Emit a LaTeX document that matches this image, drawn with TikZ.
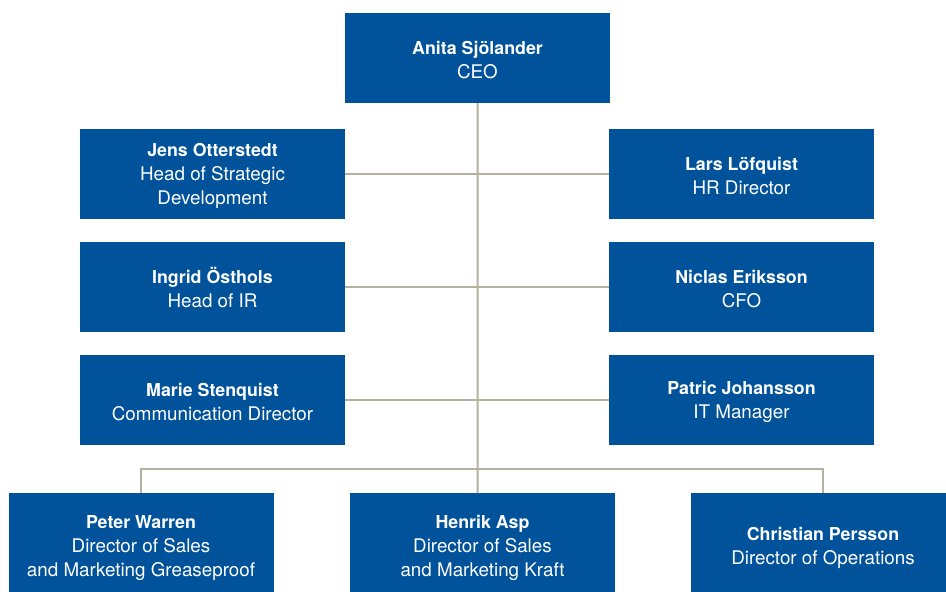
\documentclass[tikz,border=0pt]{standalone}
\usepackage{fontspec}
\setmainfont{TeX Gyre Heros}
\usepackage{tikz}
\definecolor{orgblue}{RGB}{0,82,155}
\definecolor{orgline}{RGB}{180,176,155}
\newcommand{\person}[2]{{\fontsize{17.8}{24}\selectfont\bfseries #1}\rule{0pt}{18pt}\\#2}

\begin{document}
\begin{tikzpicture}[x=1pt,y=-1pt,
    box/.style={fill=orgblue,text=white,minimum width=265pt,minimum height=90pt,
        align=center,inner sep=0pt,font=\fontsize{18.8}{24}\selectfont},
    lowbox/.style={box,minimum height=106pt},
    link/.style={draw=orgline,line width=2pt}]
    \useasboundingbox (0,0) rectangle (946,592);

    % Draw boxes
    \node[box] (ceo) at (477.5,58) {\person{Anita Sjölander}{CEO}};

    \node[box] (strat) at (212.5,174) {\person{Jens Otterstedt}{Head of Strategic\\Development}};
    \node[box] (ir)    at (212.5,287) {\person{Ingrid Östhols}{Head of IR}};
    \node[box] (comm)  at (212.5,400) {\person{Marie Stenquist}{Communication Director}};

    \node[box] (hr)  at (741.5,174) {\person{Lars Löfquist}{HR Director}};
    \node[box] (cfo) at (741.5,287) {\person{Niclas Eriksson}{CFO}};
    \node[box] (it)  at (741.5,400) {\person{Patric Johansson}{IT Manager}};

    \node[lowbox] (grease) at (141,546) {\person{Peter Warren}{Director of Sales\\and Marketing Greaseproof}};
    \node[lowbox] (kraft)  at (482.5,546) {\person{Henrik Asp}{Director of Sales\\and Marketing Kraft}};
    \node[lowbox] (ops)    at (823,546) {\person{Christian Persson}{Director of Operations}};

    % Draw connectors
    \coordinate (trunk) at (477.7,493);
    \path[link] (strat.east) -- (hr.west);
    \path[link] (ir.east) -- (cfo.west);
    \path[link] (comm.east) -- (it.west);
    \path[link] (ceo.south) -- (trunk);
    \path[link] (grease.north) -- ++(0,-24) -| (ops.north);
\end{tikzpicture}
\end{document}
